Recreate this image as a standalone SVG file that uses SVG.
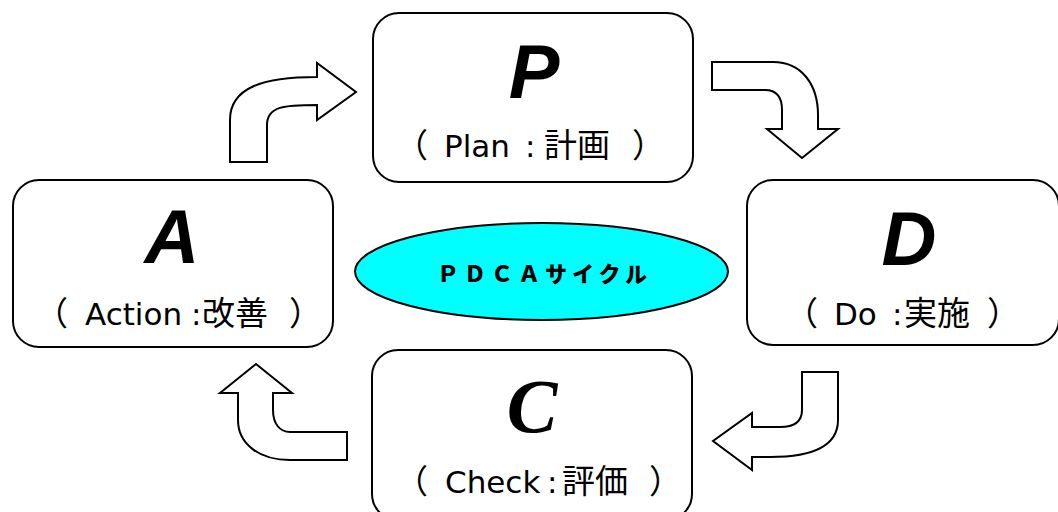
<svg xmlns="http://www.w3.org/2000/svg" width="1058" height="512" viewBox="0 0 1058 512">
<style>
.box{fill:#fff;stroke:#000;stroke-width:2}
.arr{fill:#fff;stroke:#000;stroke-width:2;stroke-linejoin:miter}
.big{font-family:"Liberation Sans","DejaVu Sans",sans-serif;font-weight:bold;font-style:italic;font-size:76px;text-anchor:middle}
.bigc{font-family:"Liberation Serif","DejaVu Serif",serif;font-weight:bold;font-style:italic;font-size:76px;text-anchor:middle}
.sub{font-family:"DejaVu Sans","Noto Sans CJK JP",sans-serif;font-size:31px}
.cjk{font-family:"Noto Sans CJK JP",sans-serif;font-size:33px}
.title{font-family:"Noto Sans CJK JP",sans-serif;font-weight:900;font-size:22px;letter-spacing:5px}
</style>
<rect width="1058" height="512" fill="#fff"/>
<g id="connectors">
<path class="arr" d="M230,162 L230,120 C230,88 262,77 317,77 L317,63 L356,92 L317,120 L317,105 C285,105 267,106 267,125 L267,162 Z"/>
<path class="arr" d="M712,62 L773,62 C802,62 818,85 818,115 L818,129 L838,129 L802,158 L767,129 L782,129 L782,110 C782,97 776,90 765,90 L712,90 Z"/>
<path class="arr" d="M802,372 L838,372 L838,420 C838,447 812,457 770,457 L752,457 L752,470 L713,441 L752,413 L752,427 L780,427 C796,427 802,420 802,410 Z"/>
<path class="arr" d="M347,432 L290,432 C280,432 273,424 273,410 L273,393 L292,393 L256,364 L220,393 L238,393 L238,420 C238,443 258,460 290,460 L347,460 Z"/>
</g>
<g id="node-P">
<rect class="box" x="373" y="13" width="320" height="169" rx="26"/>
<text class="big" x="534" y="98">P</text>
<text class="sub" y="157"><tspan class="cjk" x="395">（</tspan><tspan x="444">Plan</tspan><tspan x="525">:</tspan><tspan class="cjk" x="544">計画</tspan><tspan class="cjk" x="632">）</tspan></text>
</g>
<g id="node-D">
<rect class="box" x="747" y="180" width="312" height="165" rx="26"/>
<text class="big" x="909" y="265">D</text>
<text class="sub" y="325"><tspan class="cjk" x="785">（</tspan><tspan x="834">Do</tspan><tspan x="892">:</tspan><tspan class="cjk" x="904">実施</tspan><tspan class="cjk" x="987">）</tspan></text>
</g>
<g id="node-C">
<rect class="box" x="372" y="350" width="320" height="170" rx="26"/>
<text class="bigc" x="532" y="432">C</text>
<text class="sub" y="493"><tspan class="cjk" x="395">（</tspan><tspan x="445">Check</tspan><tspan x="547">:</tspan><tspan class="cjk" x="562">評価</tspan><tspan class="cjk" x="649">）</tspan></text>
</g>
<g id="node-A">
<rect class="box" x="13" y="180" width="320" height="167" rx="26"/>
<text class="big" x="172" y="263">A</text>
<text class="sub" y="325"><tspan class="cjk" x="35">（</tspan><tspan x="85">Action</tspan><tspan x="191">:</tspan><tspan class="cjk" x="202">改善</tspan><tspan class="cjk" x="289">）</tspan></text>
</g>
<g id="node-center">
<ellipse cx="541.5" cy="271.5" rx="186.5" ry="48.5" fill="#00ffff" stroke="#000" stroke-width="2"/>
<text class="title" x="437" y="282">ＰＤＣＡサイクル</text>
</g>
</svg>
